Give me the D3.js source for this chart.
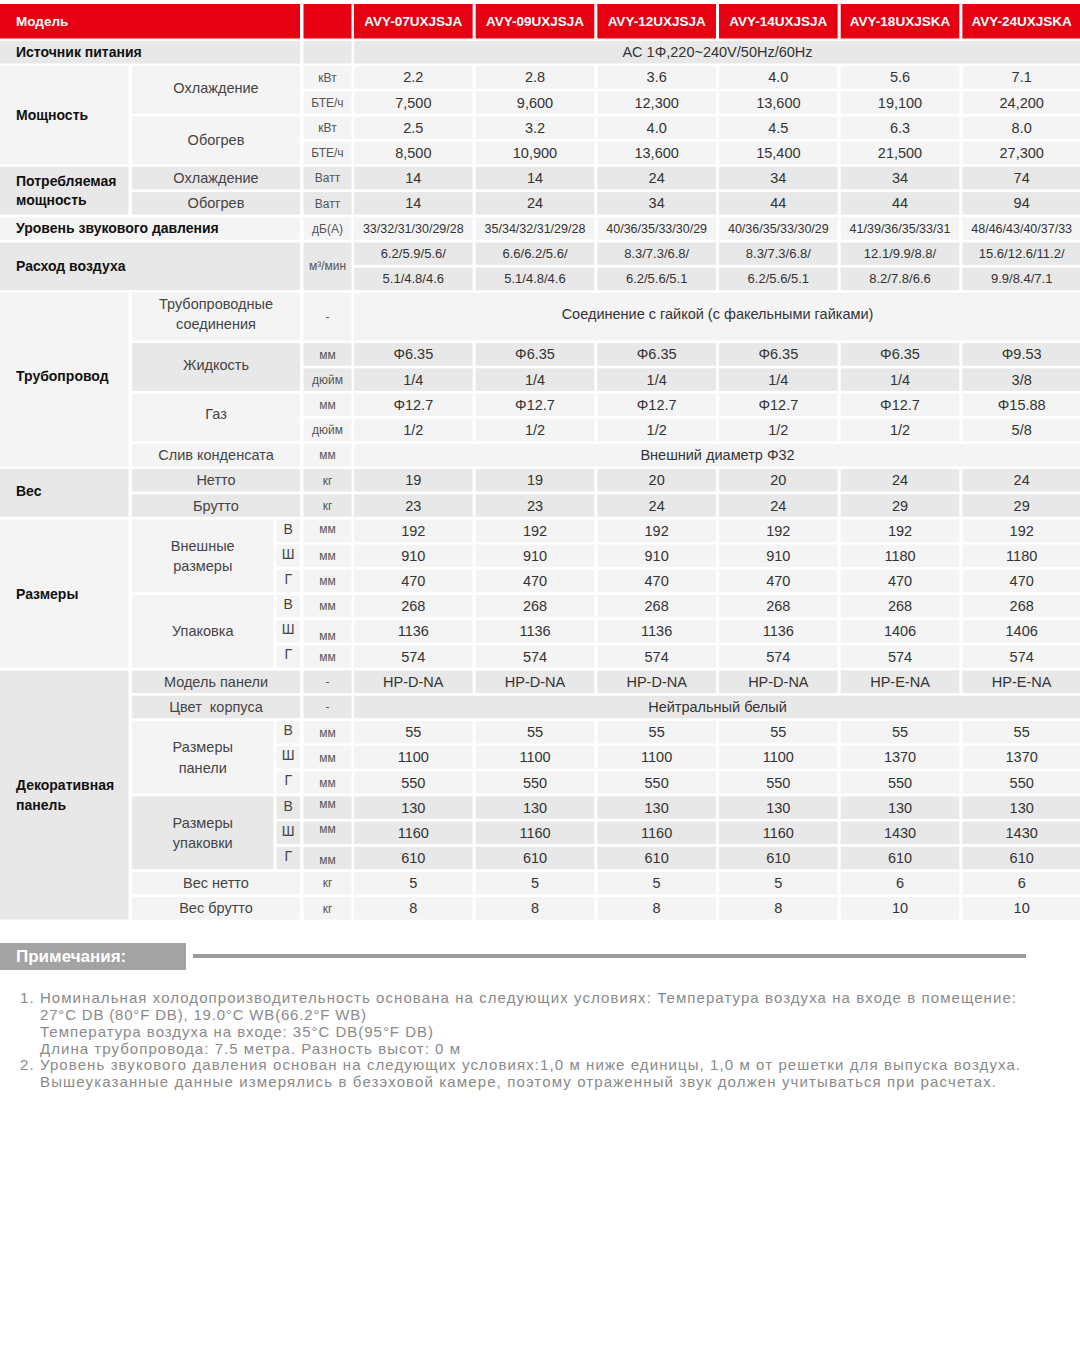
<!DOCTYPE html>
<html>
<head>
<meta charset="utf-8">
<script src="https://cdn.jsdelivr.net/npm/d3@7"></script>
<style>
  body { margin: 0; background: #fff; }
  svg text { font-family: "Liberation Sans", Arial, sans-serif; }
</style>
</head>
<body>
<svg id="sheet" width="1080" height="1350"></svg>
<script>
// --- data read from the spec sheet ---
const models = ["AVY-07UXJSJA", "AVY-09UXJSJA", "AVY-12UXJSJA", "AVY-14UXJSJA", "AVY-18UXJSKA", "AVY-24UXJSKA"];
const powerSupply = "AC 1Φ,220~240V/50Hz/60Hz";
const coolKw = ["2.2", "2.8", "3.6", "4.0", "5.6", "7.1"];
const coolBtu = ["7,500", "9,600", "12,300", "13,600", "19,100", "24,200"];
const heatKw = ["2.5", "3.2", "4.0", "4.5", "6.3", "8.0"];
const heatBtu = ["8,500", "10,900", "13,600", "15,400", "21,500", "27,300"];
const inputCool = ["14", "14", "24", "34", "34", "74"];
const inputHeat = ["14", "24", "34", "44", "44", "94"];
const noise = ["33/32/31/30/29/28", "35/34/32/31/29/28", "40/36/35/33/30/29", "40/36/35/33/30/29", "41/39/36/35/33/31", "48/46/43/40/37/33"];
const airflowHi = ["6.2/5.9/5.6/", "6.6/6.2/5.6/", "8.3/7.3/6.8/", "8.3/7.3/6.8/", "12.1/9.9/8.8/", "15.6/12.6/11.2/"];
const airflowLo = ["5.1/4.8/4.6", "5.1/4.8/4.6", "6.2/5.6/5.1", "6.2/5.6/5.1", "8.2/7.8/6.6", "9.9/8.4/7.1"];
const pipeConn = "Соединение с гайкой (с факельными гайками)";
const liquidMm = ["Φ6.35", "Φ6.35", "Φ6.35", "Φ6.35", "Φ6.35", "Φ9.53"];
const liquidIn = ["1/4", "1/4", "1/4", "1/4", "1/4", "3/8"];
const gasMm = ["Φ12.7", "Φ12.7", "Φ12.7", "Φ12.7", "Φ12.7", "Φ15.88"];
const gasIn = ["1/2", "1/2", "1/2", "1/2", "1/2", "5/8"];
const drain = "Внешний диаметр Φ32";
const netWeight = ["19", "19", "20", "20", "24", "24"];
const grossWeight = ["23", "23", "24", "24", "29", "29"];
const bodyH = ["192", "192", "192", "192", "192", "192"];
const bodyW = ["910", "910", "910", "910", "1180", "1180"];
const bodyD = ["470", "470", "470", "470", "470", "470"];
const packH = ["268", "268", "268", "268", "268", "268"];
const packW = ["1136", "1136", "1136", "1136", "1406", "1406"];
const packD = ["574", "574", "574", "574", "574", "574"];
const panelModel = ["HP-D-NA", "HP-D-NA", "HP-D-NA", "HP-D-NA", "HP-E-NA", "HP-E-NA"];
const panelColor = "Нейтральный белый";
const panelH = ["55", "55", "55", "55", "55", "55"];
const panelW = ["1100", "1100", "1100", "1100", "1370", "1370"];
const panelD = ["550", "550", "550", "550", "550", "550"];
const panelPackH = ["130", "130", "130", "130", "130", "130"];
const panelPackW = ["1160", "1160", "1160", "1160", "1430", "1430"];
const panelPackD = ["610", "610", "610", "610", "610", "610"];
const panelNet = ["5", "5", "5", "5", "6", "6"];
const panelGross = ["8", "8", "8", "8", "10", "10"];

const notes = [
    { text: "1. Номинальная холодопроизводительность основана на следующих условиях: Температура воздуха на входе в помещение:", x: 20, w: 996 },
    { text: "27°C DB (80°F DB), 19.0°C WB(66.2°F WB)", x: 40, w: 326 },
    { text: "Температура воздуха на входе: 35°C DB(95°F DB)", x: 40, w: 393 },
    { text: "Длина трубопровода: 7.5 метра. Разность высот: 0 м", x: 40, w: 420 },
    { text: "2. Уровень звукового давления основан на следующих условиях:1,0 м ниже единицы, 1,0 м от решетки для выпуска воздуха.", x: 20, w: 1000 },
    { text: "Вышеуказанные данные измерялись в безэховой камере, поэтому отраженный звук должен учитываться при расчетах.", x: 40, w: 956 }
];

// --- layout ---
const svg = d3.select("#sheet");
const RED = "#e50012", D = "#e8e8e8", L = "#f4f4f4";
const PITCH = 25.18, GAP = 2.7;

const y = d3.scaleLinear().domain([0, 35]).range([41, 41 + 35 * PITCH]);
const xm = d3.scaleBand().domain(models).range([354, 1081]).paddingInner(0.025);
const cols = {
    g: [0, 128.5], s: [132, 300], sn: [132, 273.5], l: [276.5, 300],
    gs: [0, 300], u: [303.5, 351.5], all: [354, 1081]
};

const styles = {
    group:  { size: 14,   weight: "bold",   fill: "#111", anchor: "start" },
    sub:    { size: 14.5, weight: "normal", fill: "#444", anchor: "middle" },
    letter: { size: 14,   weight: "normal", fill: "#444", anchor: "middle" },
    unit:   { size: 12,   weight: "normal", fill: "#555", anchor: "middle" },
    val:    { size: 14.5, weight: "normal", fill: "#333", anchor: "middle" },
    small:  { size: 12.5, weight: "normal", fill: "#333", anchor: "middle" },
    flow:   { size: 13,   weight: "normal", fill: "#333", anchor: "middle" }
};

const cells = [];
function add(x0, x1, r, span, fill, text, kind, dy) {
    cells.push({ x0, x1, r, span, fill, text, kind, dy: dy || 0 });
}
function at(key, r, span, fill, text, kind, dy) {
    add(cols[key][0], cols[key][1], r, span, fill, text, kind, dy);
}
function row(r, arr, fill, kind) {
    models.forEach((m, i) => add(xm(m), xm(m) + xm.bandwidth(), r, 1, fill, arr[i], kind || "val"));
}
function dims(r, label, fill, sets, unitDy) {
    at("sn", r, 3, fill, label, "sub");
    ["В", "Ш", "Г"].forEach((ch, i) => {
        at("l", r + i, 1, fill, ch, "letter", -2);
        at("u", r + i, 1, fill, "мм", "unit", unitDy[i]);
        row(r + i, sets[i], fill);
    });
}

at("gs", 0, 1, D, "Источник питания", "group");
at("u", 0, 1, D, "", "unit");
at("all", 0, 1, D, powerSupply, "val");

at("g", 1, 4, L, "Мощность", "group");
at("s", 1, 2, L, "Охлаждение", "sub", -2);
at("s", 3, 2, L, "Обогрев", "sub");
[["кВт", coolKw], ["БТЕ/ч", coolBtu], ["кВт", heatKw], ["БТЕ/ч", heatBtu]].forEach(([u, a], i) => {
    at("u", 1 + i, 1, L, u, "unit");
    row(1 + i, a, L);
});

at("g", 5, 2, D, "Потребляемая\nмощность", "group");
at("s", 5, 1, D, "Охлаждение", "sub");
at("s", 6, 1, D, "Обогрев", "sub");
at("u", 5, 1, D, "Ватт", "unit");
at("u", 6, 1, D, "Ватт", "unit");
row(5, inputCool, D);
row(6, inputHeat, D);

at("gs", 7, 1, L, "Уровень звукового давления", "group");
at("u", 7, 1, L, "дБ(А)", "unit");
row(7, noise, L, "small");

at("gs", 8, 2, D, "Расход воздуха", "group");
at("u", 8, 2, D, "м³/мин", "unit");
row(8, airflowHi, D, "flow");
row(9, airflowLo, D, "flow");

at("g", 10, 7, L, "Трубопровод", "group", -3);
at("s", 10, 2, L, "Трубопроводные\nсоединения", "sub", -3);
at("u", 10, 2, L, "-", "unit");
at("all", 10, 2, L, pipeConn, "val", -3);
at("s", 12, 2, D, "Жидкость", "sub", -2);
at("u", 12, 1, D, "мм", "unit");
at("u", 13, 1, D, "дюйм", "unit");
row(12, liquidMm, D);
row(13, liquidIn, D);
at("s", 14, 2, L, "Газ", "sub", -3);
at("u", 14, 1, L, "мм", "unit");
at("u", 15, 1, L, "дюйм", "unit");
row(14, gasMm, L);
row(15, gasIn, L);
at("s", 16, 1, L, "Слив конденсата", "sub");
at("u", 16, 1, L, "мм", "unit");
at("all", 16, 1, L, drain, "val");

at("g", 17, 2, D, "Вес", "group", -2);
at("s", 17, 1, D, "Нетто", "sub");
at("s", 18, 1, D, "Брутто", "sub");
at("u", 17, 1, D, "кг", "unit");
at("u", 18, 1, D, "кг", "unit");
row(17, netWeight, D);
row(18, grossWeight, D);

at("g", 19, 6, L, "Размеры", "group");
dims(19, "Внешные\nразмеры", L, [bodyH, bodyW, bodyD], [-2, 0, 0]);
dims(22, "Упаковка", L, [packH, packW, packD], [0, 4, 0]);

at("g", 25, 10, D, "Декоративная\nпанель", "group");
at("s", 25, 1, D, "Модель панели", "sub");
at("u", 25, 1, D, "-", "unit");
row(25, panelModel, D);
at("s", 26, 1, D, "Цвет  корпуса", "sub");
at("u", 26, 1, D, "-", "unit");
at("all", 26, 1, D, panelColor, "val");
dims(27, "Размеры\nпанели", L, [panelH, panelW, panelD], [1, 1, 0]);
dims(30, "Размеры\nупаковки", D, [panelPackH, panelPackW, panelPackD], [-4, -4, 2]);
at("s", 33, 1, L, "Вес нетто", "sub");
at("u", 33, 1, L, "кг", "unit");
row(33, panelNet, L);
at("s", 34, 1, L, "Вес брутто", "sub");
at("u", 34, 1, L, "кг", "unit");
row(34, panelGross, L);

// header
const header = [
    { x0: 0, x1: 300, text: "Модель", anchor: "start" },
    { x0: cols.u[0], x1: cols.u[1], text: "", anchor: "middle" }
].concat(models.map(m => ({ x0: xm(m), x1: xm(m) + xm.bandwidth(), text: m, anchor: "middle" })));

const hd = svg.append("g").selectAll("g").data(header).join("g");
hd.append("rect")
    .attr("x", d => d.x0).attr("y", 4)
    .attr("width", d => d.x1 - d.x0).attr("height", 34.5)
    .attr("fill", RED);
hd.append("text")
    .attr("x", d => d.anchor === "start" ? d.x0 + 16 : (d.x0 + d.x1) / 2)
    .attr("y", 21.5).attr("dy", "0.35em")
    .attr("text-anchor", d => d.anchor)
    .attr("font-size", 13.5).attr("font-weight", "bold")
    .attr("fill", "#fff")
    .text(d => d.text);

// body cells
const body = svg.append("g").selectAll("g").data(cells).join("g");
body.append("rect")
    .attr("x", d => d.x0)
    .attr("y", d => y(d.r))
    .attr("width", d => d.x1 - d.x0)
    .attr("height", d => y(d.r + d.span) - y(d.r) - GAP)
    .attr("fill", d => d.fill);

body.each(function(d) {
    if (!d.text) return;
    const st = styles[d.kind];
    const lines = d.text.split("\n");
    const lh = st.size * 1.4;
    const cy = (y(d.r) + y(d.r + d.span) - GAP) / 2 + d.dy;
    const t = d3.select(this).append("text")
        .attr("text-anchor", st.anchor)
        .attr("font-size", st.size)
        .attr("font-weight", st.weight)
        .attr("fill", st.fill)
        .attr("xml:space", "preserve");
    const tx = st.anchor === "start" ? d.x0 + 16 : (d.x0 + d.x1) / 2;
    lines.forEach((ln, i) => {
        t.append("tspan")
            .attr("x", tx)
            .attr("y", cy + (i - (lines.length - 1) / 2) * lh)
            .attr("dy", "0.35em")
            .text(ln);
    });
});

// notes block
const nb = svg.append("g");
nb.append("rect").attr("x", 0).attr("y", 943).attr("width", 186).attr("height", 27).attr("fill", "#a3a3a3");
nb.append("text")
    .attr("x", 16).attr("y", 956.5).attr("dy", "0.35em")
    .attr("font-size", 17).attr("font-weight", "bold").attr("fill", "#fff")
    .text("Примечания:");
nb.append("rect").attr("x", 193).attr("y", 954).attr("width", 833).attr("height", 4).attr("fill", "#9b9b9b");

const ny = d3.scaleLinear().domain([0, notes.length - 1]).range([998, 1082]);
nb.selectAll("text.note")
    .data(notes)
    .join("text")
    .attr("class", "note")
    .attr("x", d => d.x)
    .attr("y", (d, i) => ny(i))
    .attr("dy", "0.35em")
    .attr("font-size", 15)
    .attr("fill", "#8a8a8a")
    .attr("textLength", d => d.w)
    .attr("lengthAdjust", "spacing")
    .text(d => d.text);
</script>
</body>
</html>
